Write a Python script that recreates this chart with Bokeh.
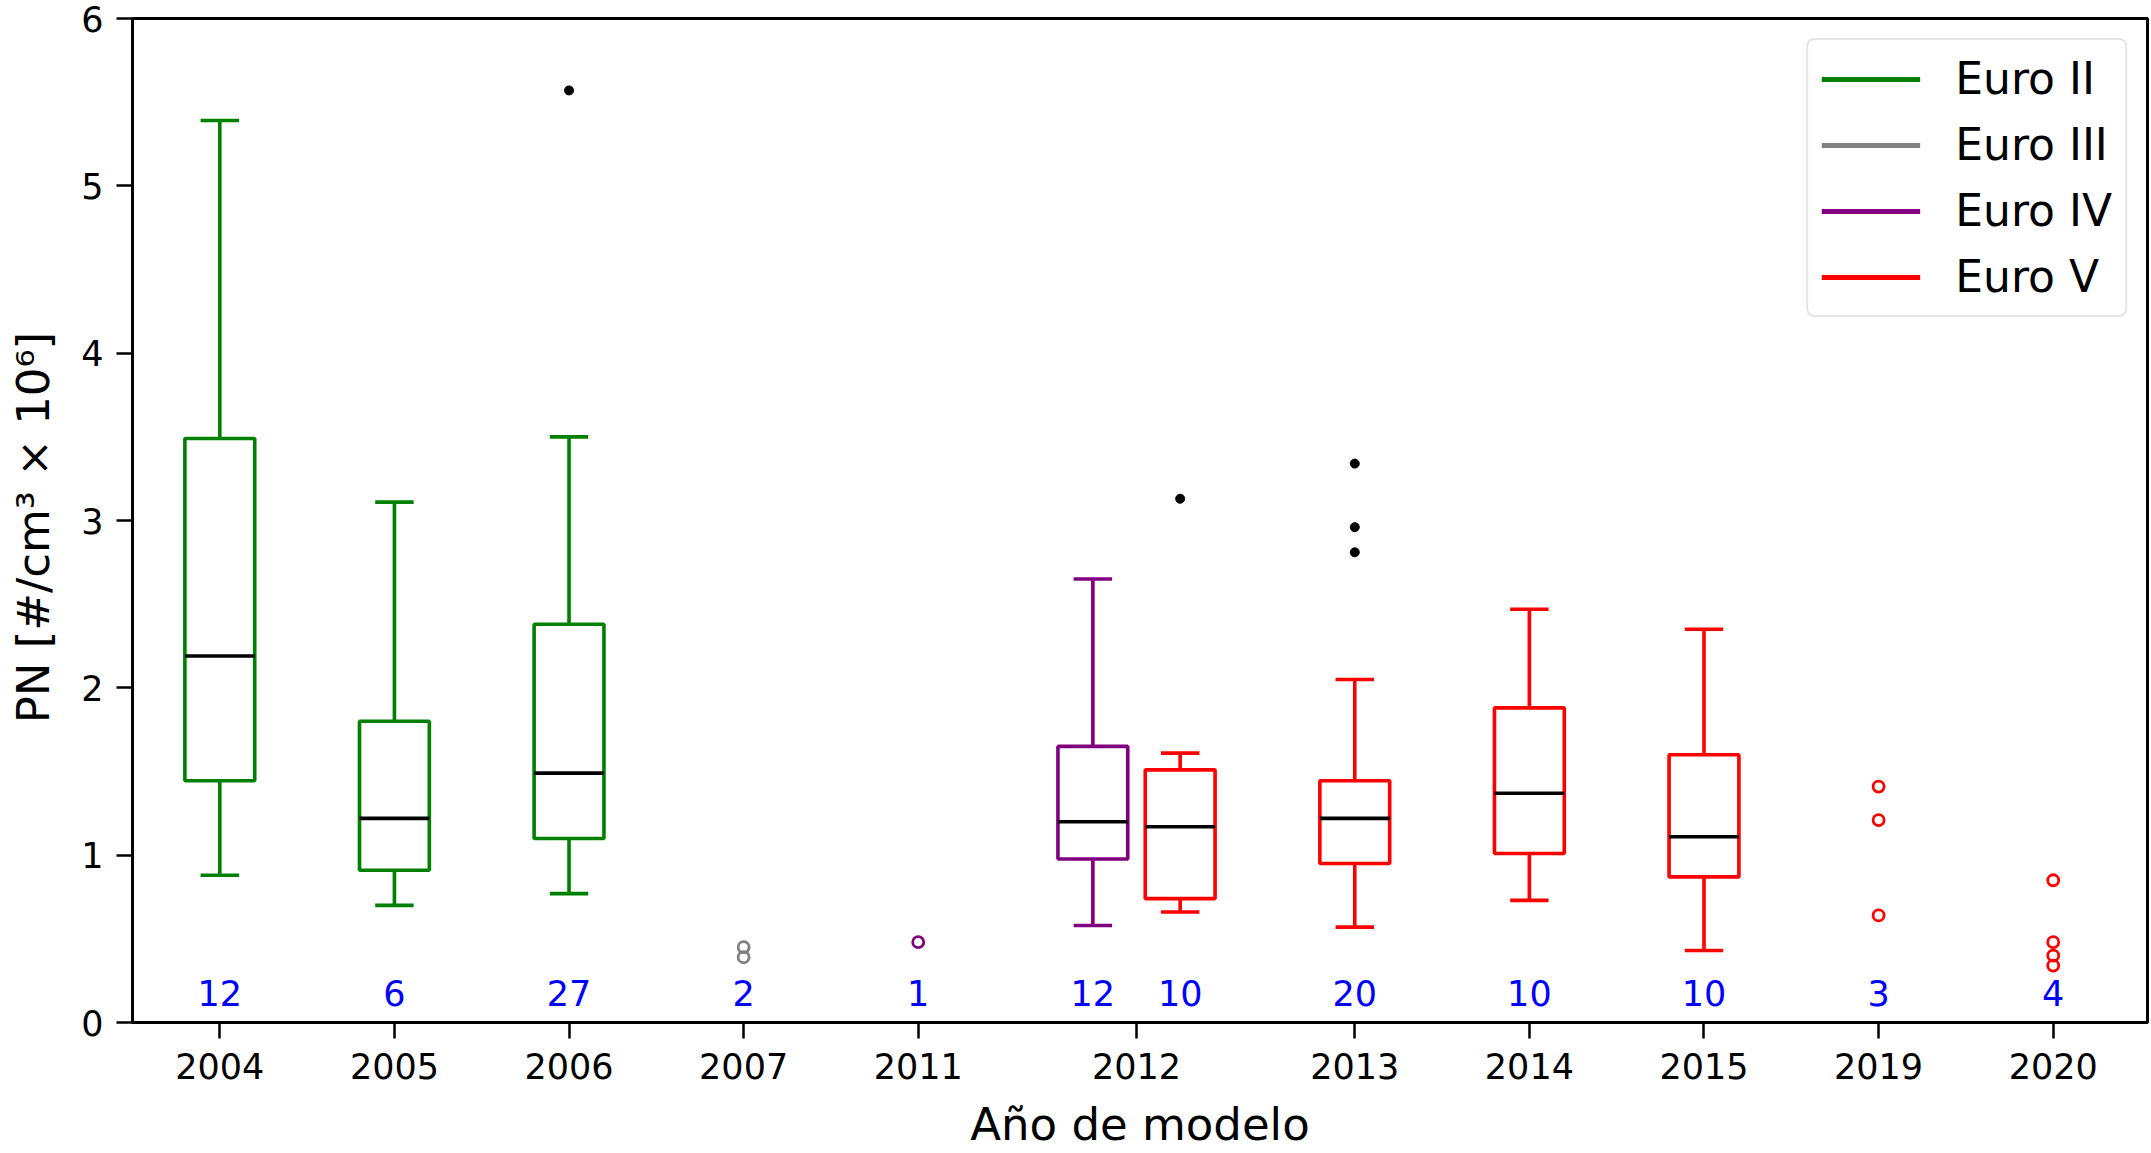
from bokeh.plotting import figure
from bokeh.models import Range1d, FixedTicker, Legend, LegendItem, ColumnDataSource
from bokeh.core.properties import value
from bokeh.embed import file_html
from bokeh.resources import INLINE

# ---- data -------------------------------------------------------------
group_year = ["2004", "2005", "2006", "2007", "2011", "2012", "2012",
              "2013", "2014", "2015", "2019", "2020"]
group_std = ["Euro II", "Euro II", "Euro II", "Euro III", "Euro IV", "Euro IV",
             "Euro V", "Euro V", "Euro V", "Euro V", "Euro V", "Euro V"]
counts = [12, 6, 27, 2, 1, 12, 10, 20, 10, 10, 3, 4]

# box statistics (None where only the individual points are shown)
whisk_lo = [0.88, 0.70, 0.77, None, None, 0.58, 0.66, 0.57, 0.73, 0.43, None, None]
q1       = [1.445, 0.91, 1.10, None, None, 0.977, 0.74, 0.95, 1.01, 0.87, None, None]
median   = [2.19, 1.22, 1.49, None, None, 1.20, 1.17, 1.22, 1.37, 1.11, None, None]
q3       = [3.49, 1.80, 2.38, None, None, 1.65, 1.51, 1.445, 1.88, 1.60, None, None]
whisk_hi = [5.39, 3.11, 3.50, None, None, 2.65, 1.61, 2.05, 2.47, 2.35, None, None]

# outliers beyond the whiskers
fliers = [[], [], [5.57], [], [], [], [3.13], [3.34, 2.96, 2.81], [], [], [], []]

# groups with too few vehicles for a box: individual measurements
raw_points = [[], [], [], [0.45, 0.39], [0.48], [], [], [], [], [],
              [1.41, 1.21, 0.64], [0.85, 0.48, 0.40, 0.34]]

standards = ["Euro II", "Euro III", "Euro IV", "Euro V"]
std_colors = {"Euro II": "#008000", "Euro III": "#808080",
              "Euro IV": "#800080", "Euro V": "#ff0000"}

# ---- positions: one slot per group, half a slot for a second group in the same year
pos = []
for i, yr in enumerate(group_year):
    if i == 0:
        pos.append(0.0)
    elif yr == group_year[i - 1]:
        pos.append(pos[-1] + 0.5)
    else:
        pos.append(pos[-1] + 1.0)

years = []
for yr in group_year:
    if yr not in years:
        years.append(yr)
year_pos = [sum(p for p, y in zip(pos, group_year) if y == yr) /
            sum(1 for y in group_year if y == yr) for yr in years]

BOX_W = 0.4
CAP_W = 0.22
LW = 3.6
FONT = "DejaVu Sans"

p = figure(width=2151, height=1153, output_backend="svg", toolbar_location=None,
           x_range=Range1d(-0.5, 11.04), y_range=Range1d(0, 6),
           min_border_left=132, min_border_right=4, min_border_top=18,
           min_border_bottom=131)
p.xgrid.visible = False
p.ygrid.visible = False
p.outline_line_color = "black"
p.outline_line_width = 3
p.background_fill_color = "white"
p.border_fill_color = "white"

# ---- boxes --------------------------------------------------------------
box_idx = [i for i in range(len(pos)) if q1[i] is not None]
bx = [pos[i] for i in box_idx]
bcol = [std_colors[group_std[i]] for i in box_idx]
box_src = ColumnDataSource(dict(
    x=bx,
    left=[x - BOX_W / 2 for x in bx], right=[x + BOX_W / 2 for x in bx],
    cap_l=[x - CAP_W / 2 for x in bx], cap_r=[x + CAP_W / 2 for x in bx],
    lo=[whisk_lo[i] for i in box_idx], q1=[q1[i] for i in box_idx],
    med=[median[i] for i in box_idx], q3=[q3[i] for i in box_idx],
    hi=[whisk_hi[i] for i in box_idx], color=bcol))

p.segment(x0="x", y0="q3", x1="x", y1="hi", source=box_src, line_color="color", line_width=LW)
p.segment(x0="x", y0="lo", x1="x", y1="q1", source=box_src, line_color="color", line_width=LW)
p.segment(x0="cap_l", y0="hi", x1="cap_r", y1="hi", source=box_src, line_color="color", line_width=LW)
p.segment(x0="cap_l", y0="lo", x1="cap_r", y1="lo", source=box_src, line_color="color", line_width=LW)
p.quad(left="left", right="right", bottom="q1", top="q3", source=box_src,
       fill_color="white", fill_alpha=0, line_color="color", line_width=LW)
p.segment(x0="left", y0="med", x1="right", y1="med", source=box_src,
          line_color="black", line_width=LW)

# ---- outliers -------------------------------------------------------------
fx, fy = [], []
for i, vals in enumerate(fliers):
    for v in vals:
        fx.append(pos[i])
        fy.append(v)
p.scatter(fx, fy, size=9, fill_color="black", line_color="black", line_width=1)

# ---- individual points for small groups ----------------------------------------
rx, ry, rc = [], [], []
for i, vals in enumerate(raw_points):
    for v in vals:
        rx.append(pos[i])
        ry.append(v)
        rc.append(std_colors[group_std[i]])
p.scatter(rx, ry, size=11, fill_color="white", fill_alpha=0, line_color=rc, line_width=2.8)

# ---- sample counts --------------------------------------------------------------
p.text(x=pos, y=[0.175] * len(pos), text=[str(c) for c in counts],
       text_align="center", text_baseline="alphabetic", text_color="#0000ff",
       text_font=value(FONT), text_font_size="35px")

# ---- legend ----------------------------------------------------------------------
nan = float("nan")
items = []
for s in standards:
    r = p.line(x=[nan], y=[nan], line_color=std_colors[s], line_width=5)
    items.append(LegendItem(label=s, renderers=[r]))
legend = Legend(items=items, location="top_right", margin=20,
                label_text_font=FONT, label_text_font_size="44px",
                label_text_color="black",
                glyph_width=99, glyph_height=50, label_height=50,
                label_standoff=35, spacing=15, padding=13,
                border_line_color="#cccccc", border_line_width=2,
                background_fill_color="white", background_fill_alpha=0.8)
if "border_radius" in Legend.properties():
    legend.border_radius = 8
p.add_layout(legend, "center")

# ---- axes -------------------------------------------------------------------------
p.xaxis.ticker = FixedTicker(ticks=year_pos)
p.xaxis.major_label_overrides = {yp: yr for yp, yr in zip(year_pos, years)}
p.yaxis.ticker = FixedTicker(ticks=[0, 1, 2, 3, 4, 5, 6])

for ax in (p.xaxis[0], p.yaxis[0]):
    ax.axis_line_color = "black"
    ax.axis_line_width = 3
    ax.major_tick_line_color = "black"
    ax.major_tick_line_width = 2.5
    ax.major_tick_in = 0
    ax.major_tick_out = 16
    ax.minor_tick_line_color = None
    ax.major_label_text_font = FONT
    ax.major_label_text_font_size = "35px"
    ax.major_label_text_color = "black"
    ax.axis_label_text_font = FONT
    ax.axis_label_text_font_size = "45px"
    ax.axis_label_text_font_style = "normal"
    ax.axis_label_text_color = "black"

p.xaxis.axis_label = "Año de modelo"
p.yaxis.axis_label = "PN [#/cm³  × 10⁶]"
p.xaxis.major_label_standoff = 14
p.yaxis.major_label_standoff = 13
p.xaxis.axis_label_standoff = 16
p.yaxis.axis_label_standoff = 18

open("out.html", "w").write(file_html(p, INLINE))
